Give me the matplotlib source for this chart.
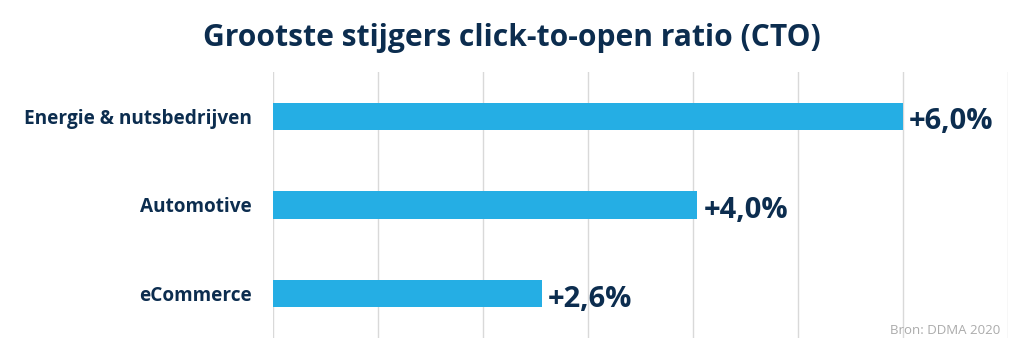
import matplotlib.pyplot as plt

categories = ["Energie & nutsbedrijven", "Automotive", "eCommerce"]
values = [6.0, 4.04, 2.56]
value_labels = ["+6,0%", "+4,0%", "+2,6%"]

navy = "#0c2d4f"
blue = "#25aee4"

plt.rcParams['font.family'] = ['Open Sans', 'DejaVu Sans']

fig = plt.figure(figsize=(10.24, 3.59), dpi=100)
ax = fig.add_axes([273 / 1024, 1 - 338 / 359, 735 / 1024, 266 / 359])

y = range(len(categories))
ax.barh(y, values, height=0.31, color=blue, zorder=2)

for yi, v, lab in zip(y, values, value_labels):
    ax.annotate(lab, (v, yi), xytext=(4.5, -1.5), textcoords="offset points",
                va="center_baseline", ha="left", fontsize=21,
                fontweight="bold", color=navy)

ax.set_xlim(0, 7)
ax.set_ylim(2.5, -0.5)
ax.set_xticks(range(0, 8))
ax.set_xticklabels([])
ax.set_yticks(list(y))
ax.set_yticklabels(categories, fontsize=13.7, fontweight="bold", color=navy)
ax.tick_params(axis="both", length=0)
ax.tick_params(axis="y", pad=15)
ax.grid(axis="x", color="#d9d9d9", linewidth=1, zorder=0)
for s in ax.spines.values():
    s.set_visible(False)

fig.text(0.5, 1 - 38 / 359, "Grootste stijgers click-to-open ratio (CTO)",
         ha="center", va="center", fontsize=21.6, fontweight="bold", color=navy)
fig.text(1000 / 1024, 1 - 334 / 359, "Bron: DDMA 2020", ha="right",
         va="baseline", fontsize=9.5, color="#ababab")

fig.savefig("out.png", dpi=100)
